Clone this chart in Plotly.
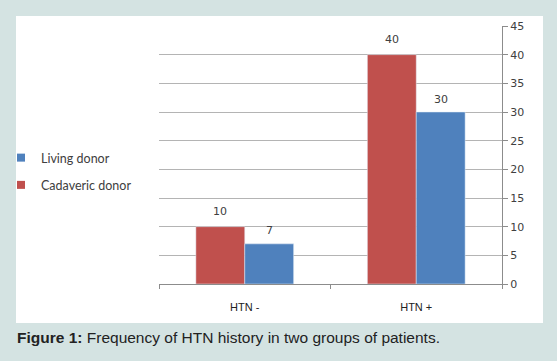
import plotly.graph_objects as go

categories = ["HTN -", "HTN +"]
cadaveric = [10, 40]
living = [7, 30]
y_ticks = [0, 5, 10, 15, 20, 25, 30, 35, 40, 45]
caption = "<b>Figure 1:</b> Frequency of HTN history in two groups of patients."

RED = "#c0504d"
BLUE = "#4f81bd"
BG = "#d4e3e2"

W, H = 557, 361
L, R, T, B = 159, 55, 26, 77
pw, ph = W - L - R, H - T - B
BARGAP = 0.43

def px2x(px):
    return (px - L) / pw

def px2y(py):
    return (H - B - py) / ph

fig = go.Figure()
fig.add_bar(x=categories, y=cadaveric, name="Cadaveric donor", marker_color=RED,
            showlegend=False)
fig.add_bar(x=categories, y=living, name="Living donor", marker_color=BLUE,
            showlegend=False)
# legend entries (small square swatches), Living first as in the original
fig.add_scatter(x=[None], y=[None], mode="markers", name="Living donor",
                marker=dict(symbol="square", size=8, color=BLUE), legendgroup="l")
fig.add_scatter(x=[None], y=[None], mode="markers", name="Cadaveric donor",
                marker=dict(symbol="square", size=8, color=RED), legendgroup="c")

annotations = []
half_bar = (1 - BARGAP) * (pw / len(categories)) / 4
lab_font = dict(family="DejaVu Sans", size=11, color="#404040")
for cat, v in zip(categories, cadaveric):
    annotations.append(dict(x=cat, y=v, xref="x", yref="y", text=str(v), showarrow=False,
                            xshift=-half_bar, yshift=15, font=lab_font))
for cat, v in zip(categories, living):
    annotations.append(dict(x=cat, y=v, xref="x", yref="y", text=str(v), showarrow=False,
                            xshift=half_bar, yshift=13, font=lab_font))
annotations.append(dict(x=px2x(15), y=px2y(337), xref="paper", yref="paper", xanchor="left",
                        yanchor="middle", text=caption, showarrow=False,
                        font=dict(family="Liberation Sans, Arial", size=15.5, color="#222222")))

fig.update_layout(
    width=W, height=H,
    margin=dict(l=L, r=R, t=T, b=B, autoexpand=False),
    paper_bgcolor=BG,
    plot_bgcolor="rgba(0,0,0,0)",
    barmode="group",
    bargap=BARGAP,
    bargroupgap=0,
    annotations=annotations,
    shapes=[dict(type="rect", xref="paper", yref="paper", x0=px2x(16), x1=px2x(543),
                 y0=px2y(323), y1=px2y(16), fillcolor="white", line=dict(width=0), layer="below")],
    legend=dict(x=px2x(1), y=px2y(143), xanchor="left", yanchor="top",
                traceorder="grouped",
                tracegroupgap=8, bgcolor="rgba(0,0,0,0)",
                font=dict(family="Lato", size=12.5, color="#404040")),
    xaxis=dict(showline=True, linecolor="#8c8c8c", linewidth=1, ticks="outside",
               tickson="boundaries", ticklen=4, tickcolor="#8c8c8c", showgrid=False,
               tickfont=dict(family="Liberation Sans, Arial", size=11, color="#222222"),
               ticklabelstandoff=13),
    yaxis=dict(side="right", range=[0, 45], tickvals=y_ticks, showline=True,
               linecolor="#8c8c8c", ticks="outside", ticklen=5, tickcolor="#8c8c8c",
               showgrid=True, gridcolor="#b4b4b4", zeroline=False,
               tickfont=dict(family="DejaVu Sans", size=11, color="#404040")),
)

fig.write_html("out.html", config={"displayModeBar": False},
               post_script="document.body.style.margin='0';")
